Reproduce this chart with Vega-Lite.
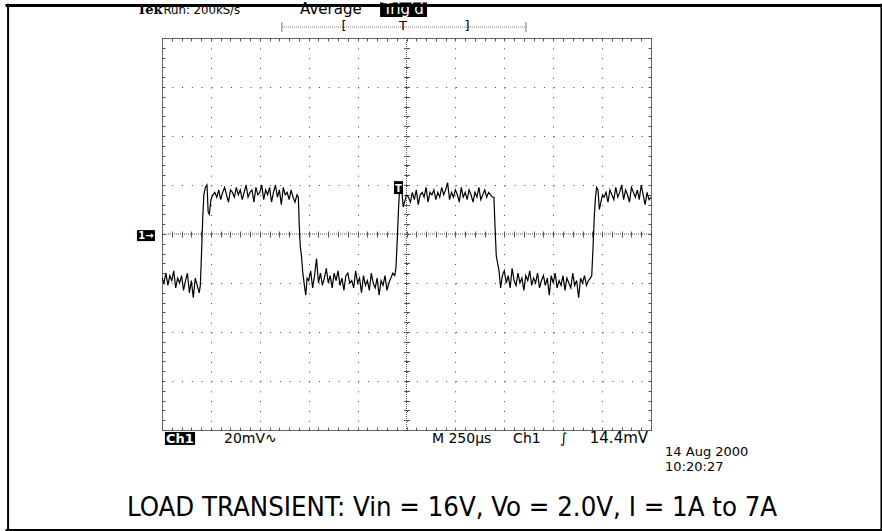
{
  "$schema": "https://vega.github.io/schema/vega-lite/v6.json",
  "width": 489,
  "height": 392,
  "autosize": {"type": "none"},
  "padding": {"left": 162, "top": 38, "right": 231, "bottom": 101},
  "background": "white",
  "config": {
    "view": {"stroke": "#666", "strokeWidth": 1},
    "axis": {"labels": false, "domain": false, "ticks": false, "grid": false, "tickColor": "#555", "gridColor": "#555", "tickWidth": 1}
  },
  "datasets": {
    "trace": [
      {"t":0,"v":-18},{"t":10,"v":-20},{"t":20,"v":-16},{"t":30,"v":-21},{"t":40,"v":-17},{"t":50,"v":-19},{"t":60,"v":-15},{"t":70,"v":-22},{"t":80,"v":-18},{"t":90,"v":-20},{"t":100,"v":-17},{"t":110,"v":-23},{"t":120,"v":-19},{"t":130,"v":-16},{"t":140,"v":-24},{"t":150,"v":-19},{"t":160,"v":-26},{"t":170,"v":-18},{"t":180,"v":-21},{"t":190,"v":-24},{"t":196,"v":-21},
      {"t":202,"v":-8},{"t":208,"v":6},{"t":214,"v":16},{"t":222,"v":19},{"t":230,"v":20},{"t":236,"v":9},{"t":242,"v":8},{"t":250,"v":14},{"t":260,"v":16},
      {"t":270,"v":17},{"t":280,"v":15},{"t":290,"v":18},{"t":300,"v":14},{"t":310,"v":17},{"t":320,"v":19},{"t":330,"v":16},{"t":340,"v":13},{"t":350,"v":18},{"t":360,"v":17},{"t":370,"v":15},{"t":380,"v":19},{"t":390,"v":16},{"t":400,"v":18},{"t":410,"v":14},{"t":420,"v":17},{"t":430,"v":20},{"t":440,"v":15},{"t":450,"v":17},{"t":460,"v":18},{"t":470,"v":13},{"t":480,"v":19},{"t":490,"v":16},{"t":500,"v":17},{"t":510,"v":20},{"t":520,"v":14},{"t":530,"v":18},{"t":540,"v":16},{"t":550,"v":19},{"t":560,"v":13},{"t":570,"v":17},{"t":580,"v":20},{"t":590,"v":15},{"t":600,"v":18},{"t":610,"v":12},{"t":620,"v":19},{"t":630,"v":16},{"t":640,"v":17},{"t":650,"v":14},{"t":660,"v":18},{"t":670,"v":15},{"t":680,"v":13},{"t":690,"v":16},
      {"t":697,"v":15},{"t":702,"v":3},{"t":707,"v":-5},{"t":713,"v":-9},{"t":720,"v":-16},{"t":728,"v":-21},{"t":735,"v":-25},{"t":742,"v":-18},
      {"t":750,"v":-19},{"t":760,"v":-15},{"t":770,"v":-22},{"t":780,"v":-17},{"t":790,"v":-10},{"t":800,"v":-20},{"t":810,"v":-16},{"t":820,"v":-21},{"t":830,"v":-18},{"t":840,"v":-14},{"t":850,"v":-20},{"t":860,"v":-17},{"t":870,"v":-22},{"t":880,"v":-16},{"t":890,"v":-19},{"t":900,"v":-15},{"t":910,"v":-21},{"t":920,"v":-18},{"t":930,"v":-23},{"t":940,"v":-17},{"t":950,"v":-16},{"t":960,"v":-20},{"t":970,"v":-19},{"t":980,"v":-22},{"t":990,"v":-15},{"t":1000,"v":-20},{"t":1010,"v":-18},{"t":1020,"v":-24},{"t":1030,"v":-17},{"t":1040,"v":-21},{"t":1050,"v":-19},{"t":1060,"v":-23},{"t":1070,"v":-16},{"t":1080,"v":-20},{"t":1090,"v":-22},{"t":1100,"v":-18},{"t":1110,"v":-25},{"t":1120,"v":-19},{"t":1130,"v":-21},{"t":1140,"v":-17},{"t":1150,"v":-23},{"t":1160,"v":-20},{"t":1170,"v":-18},{"t":1180,"v":-16},{"t":1190,"v":-17},
      {"t":1196,"v":-14},{"t":1203,"v":-2},{"t":1209,"v":10},{"t":1215,"v":19},{"t":1221,"v":21},{"t":1227,"v":17},{"t":1233,"v":11},{"t":1240,"v":13},{"t":1250,"v":16},
      {"t":1260,"v":15},{"t":1270,"v":13},{"t":1280,"v":17},{"t":1290,"v":14},{"t":1300,"v":18},{"t":1310,"v":12},{"t":1320,"v":16},{"t":1330,"v":17},{"t":1340,"v":15},{"t":1350,"v":19},{"t":1360,"v":13},{"t":1370,"v":17},{"t":1380,"v":16},{"t":1390,"v":18},{"t":1400,"v":14},{"t":1410,"v":17},{"t":1420,"v":15},{"t":1430,"v":19},{"t":1440,"v":16},{"t":1450,"v":18},{"t":1460,"v":21},{"t":1470,"v":14},{"t":1480,"v":17},{"t":1490,"v":15},{"t":1500,"v":18},{"t":1510,"v":16},{"t":1520,"v":13},{"t":1530,"v":19},{"t":1540,"v":15},{"t":1550,"v":17},{"t":1560,"v":14},{"t":1570,"v":18},{"t":1580,"v":16},{"t":1590,"v":13},{"t":1600,"v":17},{"t":1610,"v":15},{"t":1620,"v":19},{"t":1630,"v":14},{"t":1640,"v":16},{"t":1650,"v":18},{"t":1660,"v":15},{"t":1670,"v":17},{"t":1680,"v":16},{"t":1690,"v":15},
      {"t":1697,"v":15},{"t":1703,"v":2},{"t":1709,"v":-9},{"t":1716,"v":-12},{"t":1723,"v":-15},{"t":1731,"v":-22},{"t":1740,"v":-17},
      {"t":1750,"v":-15},{"t":1760,"v":-20},{"t":1770,"v":-17},{"t":1780,"v":-22},{"t":1790,"v":-14},{"t":1800,"v":-19},{"t":1810,"v":-21},{"t":1820,"v":-16},{"t":1830,"v":-20},{"t":1840,"v":-18},{"t":1850,"v":-23},{"t":1860,"v":-17},{"t":1870,"v":-19},{"t":1880,"v":-15},{"t":1890,"v":-21},{"t":1900,"v":-18},{"t":1910,"v":-20},{"t":1920,"v":-16},{"t":1930,"v":-22},{"t":1940,"v":-19},{"t":1950,"v":-17},{"t":1960,"v":-21},{"t":1970,"v":-18},{"t":1980,"v":-25},{"t":1990,"v":-17},{"t":2000,"v":-20},{"t":2010,"v":-16},{"t":2020,"v":-22},{"t":2030,"v":-19},{"t":2040,"v":-21},{"t":2050,"v":-17},{"t":2060,"v":-23},{"t":2070,"v":-18},{"t":2080,"v":-20},{"t":2090,"v":-22},{"t":2100,"v":-16},{"t":2110,"v":-21},{"t":2120,"v":-19},{"t":2130,"v":-26},{"t":2140,"v":-18},{"t":2150,"v":-20},{"t":2160,"v":-17},{"t":2170,"v":-21},{"t":2180,"v":-19},{"t":2190,"v":-18},
      {"t":2197,"v":-17},{"t":2204,"v":-5},{"t":2210,"v":7},{"t":2216,"v":15},{"t":2222,"v":19},{"t":2229,"v":18},{"t":2236,"v":10},{"t":2244,"v":13},{"t":2252,"v":16},
      {"t":2260,"v":15},{"t":2270,"v":17},{"t":2280,"v":13},{"t":2290,"v":18},{"t":2300,"v":16},{"t":2310,"v":14},{"t":2320,"v":19},{"t":2330,"v":15},{"t":2340,"v":17},{"t":2350,"v":20},{"t":2360,"v":14},{"t":2370,"v":18},{"t":2380,"v":16},{"t":2390,"v":13},{"t":2400,"v":19},{"t":2410,"v":17},{"t":2420,"v":15},{"t":2430,"v":18},{"t":2440,"v":14},{"t":2450,"v":20},{"t":2460,"v":16},{"t":2470,"v":12},{"t":2480,"v":17},{"t":2490,"v":14},{"t":2500,"v":15}
    ]
  },
  "data": {"name": "trace"},
  "resolve": {"axis": {"x": "independent", "y": "independent"}},
  "layer": [
    {
      "mark": {"type": "line", "color": "black", "strokeWidth": 1.2, "clip": true},
      "encoding": {
        "x": {"field": "t", "type": "quantitative", "scale": {"domain": [0, 2500], "nice": false, "zero": false},
              "axis": {"orient": "bottom", "values": [250,500,750,1000,1250,1500,1750,2000,2250], "grid": true, "gridDash": [1, 8.8], "gridColor": "#444", "title": null}},
        "y": {"field": "v", "type": "quantitative", "scale": {"domain": [-80, 80], "nice": false, "zero": false},
              "axis": {"orient": "left", "values": [-60,-40,-20,20,40,60], "grid": true, "gridDash": [1, 8.78], "gridColor": "#444", "title": null}}
      }
    },
    {
      "mark": {"type": "point", "opacity": 0},
      "encoding": {
        "x": {"field": "t", "type": "quantitative", "axis": {"orient": "bottom", "offset": -3, "ticks": true, "tickSize": 3, "title": null,
              "values": [0,50,100,150,200,250,300,350,400,450,500,550,600,650,700,750,800,850,900,950,1000,1050,1100,1150,1200,1250,1300,1350,1400,1450,1500,1550,1600,1650,1700,1750,1800,1850,1900,1950,2000,2050,2100,2150,2200,2250,2300,2350,2400,2450,2500]}},
        "y": {"field": "v", "type": "quantitative", "axis": {"orient": "left", "offset": -3, "ticks": true, "tickSize": 3, "title": null,
              "values": [-80,-76,-72,-68,-64,-60,-56,-52,-48,-44,-40,-36,-32,-28,-24,-20,-16,-12,-8,-4,0,4,8,12,16,20,24,28,32,36,40,44,48,52,56,60,64,68,72,76,80]}}
      }
    },
    {
      "mark": {"type": "point", "opacity": 0},
      "encoding": {
        "x": {"field": "t", "type": "quantitative", "axis": {"orient": "top", "offset": -3, "ticks": true, "tickSize": 3, "title": null,
              "values": [0,50,100,150,200,250,300,350,400,450,500,550,600,650,700,750,800,850,900,950,1000,1050,1100,1150,1200,1250,1300,1350,1400,1450,1500,1550,1600,1650,1700,1750,1800,1850,1900,1950,2000,2050,2100,2150,2200,2250,2300,2350,2400,2450,2500]}},
        "y": {"field": "v", "type": "quantitative", "axis": {"orient": "right", "offset": -3, "ticks": true, "tickSize": 3, "title": null,
              "values": [-80,-76,-72,-68,-64,-60,-56,-52,-48,-44,-40,-36,-32,-28,-24,-20,-16,-12,-8,-4,0,4,8,12,16,20,24,28,32,36,40,44,48,52,56,60,64,68,72,76,80]}}
      }
    },
    {
      "mark": {"type": "point", "opacity": 0},
      "encoding": {
        "x": {"field": "t", "type": "quantitative", "axis": {"orient": "bottom", "offset": -199, "ticks": true, "tickSize": 6, "title": null,
              "values": [0,50,100,150,200,250,300,350,400,450,500,550,600,650,700,750,800,850,900,950,1000,1050,1100,1150,1200,1250,1300,1350,1400,1450,1500,1550,1600,1650,1700,1750,1800,1850,1900,1950,2000,2050,2100,2150,2200,2250,2300,2350,2400,2450,2500]}},
        "y": {"field": "v", "type": "quantitative", "axis": {"orient": "left", "offset": -247.5, "ticks": true, "tickSize": 6, "title": null,
              "values": [-80,-76,-72,-68,-64,-60,-56,-52,-48,-44,-40,-36,-32,-28,-24,-20,-16,-12,-8,-4,0,4,8,12,16,20,24,28,32,36,40,44,48,52,56,60,64,68,72,76,80]}}
      }
    },
    {
      "data": {"values": [{}]},
      "mark": {"type": "rule", "color": "#555", "strokeDash": [1, 1]},
      "encoding": {"x": {"datum": 1250, "type": "quantitative", "axis": null}}
    },
    {
      "data": {"values": [{}]},
      "mark": {"type": "rule", "color": "#555", "strokeDash": [1, 1]},
      "encoding": {"y": {"datum": 0, "type": "quantitative", "axis": null}}
    },
    {
      "data": {"values": [{}]},
      "mark": {"type": "rect", "color": "black"},
      "encoding": {"x": {"datum": 1186, "type": "quantitative", "axis": null}, "x2": {"datum": 1232}, "y": {"datum": 21.6, "type": "quantitative", "axis": null}, "y2": {"datum": 16.3}}
    },
    {
      "data": {"values": [{}]},
      "mark": {"type": "text", "text": "T", "font": "DejaVu Sans", "fontSize": 10, "fontWeight": "bold", "color": "white", "align": "center", "baseline": "alphabetic"},
      "encoding": {"x": {"datum": 1209, "type": "quantitative", "axis": null}, "y": {"datum": 17.3, "type": "quantitative", "axis": null}}
    },
    {
      "data": {"values": [{}]},
      "mark": {"type": "rect", "color": "black"},
      "encoding": {"x": {"datum": -128, "type": "quantitative", "axis": null}, "x2": {"datum": -36}, "y": {"datum": 1.6, "type": "quantitative", "axis": null}, "y2": {"datum": -2.9}}
    },
    {
      "data": {"values": [{}]},
      "mark": {"type": "text", "text": "1→", "font": "DejaVu Sans", "fontSize": 10, "fontWeight": "bold", "color": "white", "align": "center", "baseline": "alphabetic"},
      "encoding": {"x": {"datum": -82, "type": "quantitative", "axis": null}, "y": {"datum": -2.2, "type": "quantitative", "axis": null}}
    },
    {
      "data": {"values": [{}]},
      "mark": {"type": "rule", "color": "#777", "strokeDash": [1, 1]},
      "encoding": {"x": {"datum": 613, "type": "quantitative", "axis": null}, "x2": {"datum": 1861}, "y": {"datum": 84.5, "type": "quantitative", "axis": null}}
    },
    {
      "data": {"values": [{}]},
      "mark": {"type": "rule", "color": "#777"},
      "encoding": {"x": {"datum": 613, "type": "quantitative", "axis": null}, "y": {"datum": 86.6, "type": "quantitative", "axis": null}, "y2": {"datum": 82.4}}
    },
    {
      "data": {"values": [{}]},
      "mark": {"type": "rule", "color": "#777"},
      "encoding": {"x": {"datum": 1861, "type": "quantitative", "axis": null}, "y": {"datum": 86.6, "type": "quantitative", "axis": null}, "y2": {"datum": 82.4}}
    },
    {
      "data": {"values": [{"s": "[", "t": 930}, {"s": "T", "t": 1232}, {"s": "]", "t": 1559}]},
      "mark": {"type": "text", "font": "DejaVu Sans", "fontSize": 13, "color": "black", "align": "center", "baseline": "middle"},
      "encoding": {"text": {"field": "s"}, "x": {"field": "t", "type": "quantitative", "axis": null}, "y": {"datum": 84.8, "type": "quantitative", "axis": null}}
    },
    {
      "data": {"values": [{}]},
      "mark": {"type": "text", "text": "Tek", "font": "DejaVu Serif", "fontSize": 13, "fontWeight": "bold", "color": "black", "align": "left", "baseline": "alphabetic"},
      "encoding": {"x": {"datum": -128, "type": "quantitative", "axis": null}, "y": {"datum": 89.8, "type": "quantitative", "axis": null}}
    },
    {
      "data": {"values": [{}]},
      "mark": {"type": "text", "text": "Run: 200kS/s", "font": "DejaVu Sans Condensed", "fontSize": 13, "color": "black", "align": "left", "baseline": "alphabetic"},
      "encoding": {"x": {"datum": 8, "type": "quantitative", "axis": null}, "y": {"datum": 89.8, "type": "quantitative", "axis": null}}
    },
    {
      "data": {"values": [{}]},
      "mark": {"type": "text", "text": "Average", "font": "DejaVu Sans", "fontSize": 15, "color": "black", "align": "left", "baseline": "alphabetic"},
      "encoding": {"x": {"datum": 706, "type": "quantitative", "axis": null}, "y": {"datum": 89.8, "type": "quantitative", "axis": null}}
    },
    {
      "data": {"values": [{}]},
      "mark": {"type": "rect", "color": "black"},
      "encoding": {"x": {"datum": 1115, "type": "quantitative", "axis": null}, "x2": {"datum": 1355}, "y": {"datum": 94.5, "type": "quantitative", "axis": null}, "y2": {"datum": 88.6}}
    },
    {
      "data": {"values": [{}]},
      "mark": {"type": "text", "text": "Trig'd", "font": "DejaVu Sans", "fontSize": 15, "color": "white", "align": "center", "baseline": "alphabetic"},
      "encoding": {"x": {"datum": 1235, "type": "quantitative", "axis": null}, "y": {"datum": 89.8, "type": "quantitative", "axis": null}}
    },
    {
      "data": {"values": [{}]},
      "mark": {"type": "rect", "color": "black"},
      "encoding": {"x": {"datum": 15, "type": "quantitative", "axis": null}, "x2": {"datum": 169}, "y": {"datum": -80.8, "type": "quantitative", "axis": null}, "y2": {"datum": -86.1}}
    },
    {
      "data": {"values": [{}]},
      "mark": {"type": "text", "text": "Ch1", "font": "DejaVu Sans", "fontSize": 13, "fontWeight": "bold", "color": "white", "align": "center", "baseline": "alphabetic"},
      "encoding": {"x": {"datum": 92, "type": "quantitative", "axis": null}, "y": {"datum": -85.3, "type": "quantitative", "axis": null}}
    },
    {
      "data": {"values": [{"s": "20mV∿", "t": 317}, {"s": "M 250µs", "t": 1380}, {"s": "Ch1", "t": 1795}, {"s": "∫", "t": 2035}]},
      "mark": {"type": "text", "font": "DejaVu Sans", "fontSize": 14, "color": "black", "align": "left", "baseline": "alphabetic"},
      "encoding": {"text": {"field": "s"}, "x": {"field": "t", "type": "quantitative", "axis": null}, "y": {"datum": -85.3, "type": "quantitative", "axis": null}}
    },
    {
      "data": {"values": [{}]},
      "mark": {"type": "text", "text": "14.4mV", "font": "DejaVu Sans", "fontSize": 15, "color": "black", "align": "right", "baseline": "alphabetic"},
      "encoding": {"x": {"datum": 2485, "type": "quantitative", "axis": null}, "y": {"datum": -85.3, "type": "quantitative", "axis": null}}
    },
    {
      "data": {"values": [{"s": "14 Aug 2000", "v": -90.8}, {"s": "10:20:27", "v": -96.6}]},
      "mark": {"type": "text", "font": "DejaVu Sans", "fontSize": 13, "color": "black", "align": "left", "baseline": "alphabetic"},
      "encoding": {"text": {"field": "s"}, "x": {"datum": 2572, "type": "quantitative", "axis": null}, "y": {"field": "v", "type": "quantitative", "axis": null}}
    },
    {
      "data": {"values": [{}]},
      "mark": {"type": "text", "text": "LOAD TRANSIENT: Vin = 16V, Vo = 2.0V, I = 1A to 7A", "font": "Liberation Sans Narrow, DejaVu Sans Condensed, sans-serif", "fontSize": 27.3, "color": "black", "align": "center", "baseline": "alphabetic"},
      "encoding": {"x": {"datum": 1483, "type": "quantitative", "axis": null}, "y": {"datum": -115.1, "type": "quantitative", "axis": null}}
    },
    {
      "data": {"values": [{}]},
      "mark": {"type": "rule", "color": "black", "strokeWidth": 3},
      "encoding": {"x": {"datum": -800, "type": "quantitative", "axis": null}, "x2": {"datum": 3700}, "y": {"datum": 93.3, "type": "quantitative", "axis": null}}
    },
    {
      "data": {"values": [{}]},
      "mark": {"type": "rule", "color": "black", "strokeWidth": 2},
      "encoding": {"x": {"datum": -800, "type": "quantitative", "axis": null}, "x2": {"datum": 3700}, "y": {"datum": -120.8, "type": "quantitative", "axis": null}}
    },
    {
      "data": {"values": [{}]},
      "mark": {"type": "rule", "color": "black", "strokeWidth": 2},
      "encoding": {"x": {"datum": -787, "type": "quantitative", "axis": null}, "y": {"datum": 94, "type": "quantitative", "axis": null}, "y2": {"datum": -121.2}}
    },
    {
      "data": {"values": [{}]},
      "mark": {"type": "rule", "color": "black", "strokeWidth": 2},
      "encoding": {"x": {"datum": 3678, "type": "quantitative", "axis": null}, "y": {"datum": 94, "type": "quantitative", "axis": null}, "y2": {"datum": -121.2}}
    }
  ]
}
